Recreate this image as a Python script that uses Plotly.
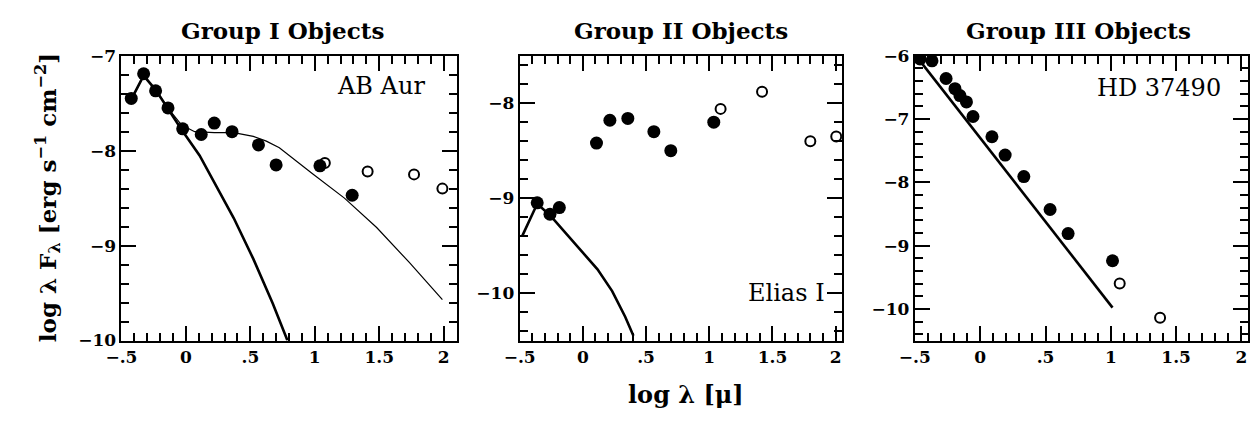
import plotly.graph_objects as go

# ---------------- Group I : AB Aur ----------------
ab_det_x = [-0.424, -0.328, -0.235, -0.139, -0.025, 0.119, 0.22, 0.358, 0.563, 0.70, 1.04, 1.29]
ab_det_y = [-7.45, -7.19, -7.37, -7.55, -7.77, -7.83, -7.71, -7.80, -7.94, -8.15, -8.16, -8.47]
ab_open_x = [1.078, 1.41, 1.77, 1.99]
ab_open_y = [-8.13, -8.22, -8.25, -8.40]
ab_model_x = [-0.424, -0.328, -0.235, -0.134, -0.033, 0.068, 0.22, 0.371, 0.523, 0.624, 0.725,
              0.852, 0.98, 1.23, 1.48, 1.735, 1.99]
ab_model_y = [-7.46, -7.21, -7.36, -7.56, -7.73, -7.80, -7.81, -7.81, -7.85, -7.90, -7.97,
              -8.10, -8.24, -8.50, -8.81, -9.18, -9.57]
ab_star_x = [-0.424, -0.328, -0.235, -0.134, -0.033, 0.106, 0.22, 0.371, 0.523, 0.674, 0.788]
ab_star_y = [-7.46, -7.21, -7.36, -7.57, -7.78, -8.05, -8.34, -8.71, -9.14, -9.61, -10.0]

# ---------------- Group II : Elias I ----------------
el_det_x = [-0.361, -0.26, -0.186, 0.108, 0.214, 0.356, 0.562, 0.696, 1.036]
el_det_y = [-9.05, -9.17, -9.10, -8.42, -8.18, -8.16, -8.30, -8.50, -8.20]
el_open_x = [1.09, 1.418, 1.80, 2.005]
el_open_y = [-8.06, -7.88, -8.40, -8.35]
el_star_x = [-0.48, -0.361, -0.26, 0.116, 0.232, 0.335, 0.40]
el_star_y = [-9.40, -9.06, -9.18, -9.75, -9.98, -10.25, -10.45]

# ---------------- Group III : HD 37490 ----------------
hd_det_x = [-0.46, -0.369, -0.261, -0.193, -0.155, -0.105, -0.055, 0.09, 0.191, 0.334, 0.535, 0.673, 1.013]
hd_det_y = [-6.05, -6.08, -6.36, -6.52, -6.63, -6.73, -6.96, -7.28, -7.57, -7.91, -8.43, -8.81, -9.24]
hd_open_x = [1.068, 1.377]
hd_open_y = [-9.60, -10.14]
hd_star_x = [-0.495, 1.013]
hd_star_y = [-5.99, -9.98]

# ---------------- axis tick labels ----------------
x_tickvals = [-0.5, 0, 0.5, 1, 1.5, 2]
x_ticktext = ["\u2212.5", "0", ".5", "1", "1.5", "2"]
y1_tickvals = [-10, -9, -8, -7]
y1_ticktext = ["\u221210", "\u22129", "\u22128", "\u22127"]
y2_tickvals = [-10, -9, -8]
y2_ticktext = ["\u221210", "\u22129", "\u22128"]
y3_tickvals = [-10, -9, -8, -7, -6]
y3_ticktext = ["\u221210", "\u22129", "\u22128", "\u22127", "\u22126"]

FONT = "DejaVu Serif"
INK = "black"

fig = go.Figure()


def add_panel(n, det_x, det_y, open_x, open_y, lines):
    xa = "x" if n == 1 else f"x{n}"
    ya = "y" if n == 1 else f"y{n}"
    for lx, ly, w in lines:
        fig.add_trace(go.Scatter(x=lx, y=ly, mode="lines", xaxis=xa, yaxis=ya,
                                 line=dict(color=INK, width=w), showlegend=False))
    fig.add_trace(go.Scatter(x=det_x, y=det_y, mode="markers", xaxis=xa, yaxis=ya,
                             marker=dict(symbol="circle", size=13, color=INK), showlegend=False))
    fig.add_trace(go.Scatter(x=open_x, y=open_y, mode="markers", xaxis=xa, yaxis=ya,
                             marker=dict(symbol="circle-open", size=10, color=INK,
                                         line=dict(width=2, color=INK)), showlegend=False))


add_panel(1, ab_det_x, ab_det_y, ab_open_x, ab_open_y,
          [(ab_model_x, ab_model_y, 1.2), (ab_star_x, ab_star_y, 2.6)])
add_panel(2, el_det_x, el_det_y, el_open_x, el_open_y,
          [(el_star_x, el_star_y, 2.6)])
add_panel(3, hd_det_x, hd_det_y, hd_open_x, hd_open_y,
          [(hd_star_x, hd_star_y, 2.6)])


def axis_style(domain, rng, tickvals, ticktext, minor_dtick, anchor):
    return dict(
        domain=domain, range=rng, anchor=anchor,
        tickmode="array", tickvals=tickvals, ticktext=ticktext,
        showline=True, linewidth=2, linecolor=INK, mirror="allticks",
        ticks="inside", ticklen=15, tickwidth=2, tickcolor=INK,
        minor=dict(ticks="inside", ticklen=8, tickwidth=2, tickcolor=INK,
                   dtick=minor_dtick, tick0=0),
        showgrid=False, zeroline=False,
        tickfont=dict(family=FONT, size=17, color=INK, weight="bold"),
    )


Y_DOM = [1 - 347 / 421, 1 - 48 / 421]
fig.update_layout(
    width=1250, height=421,
    margin=dict(l=0, r=0, t=0, b=0),
    plot_bgcolor="white",
    xaxis=axis_style([107 / 1250, 447 / 1250], [-0.5, 2.1], x_tickvals, x_ticktext, 0.1, "y"),
    yaxis=axis_style(Y_DOM, [-10, -7], y1_tickvals, y1_ticktext, 0.2, "x"),
    xaxis2=axis_style([511 / 1250, 838 / 1250], [-0.5, 2.05], x_tickvals, x_ticktext, 0.1, "y2"),
    yaxis2=axis_style(Y_DOM, [-10.5, -7.5], y2_tickvals, y2_ticktext, 0.2, "x2"),
    xaxis3=axis_style([912 / 1250, 1.0], [-0.5, 2.05], x_tickvals, x_ticktext, 0.1, "y3"),
    yaxis3=axis_style(Y_DOM, [-10.5, -6], y3_tickvals, y3_ticktext, 0.2, "x3"),
)

titles = [("Group I Objects", 270), ("Group II Objects", 675), ("Group III Objects", 1078)]
for text, cx in titles:
    fig.add_annotation(text=text, x=cx / 1250, y=1 - 22 / 421, xref="paper", yref="paper",
                       xanchor="center", yanchor="middle", showarrow=False,
                       font=dict(family=FONT, size=23, color=INK, weight="bold"))

labels = [("AB Aur", 370, 80), ("Elias I", 782, 297), ("HD 37490", 1160, 82)]
for text, cx, cy in labels:
    fig.add_annotation(text=text, x=cx / 1250, y=1 - cy / 421, xref="paper", yref="paper",
                       xanchor="center", yanchor="middle", showarrow=False,
                       font=dict(family=FONT, size=24, color=INK))

fig.add_annotation(text="log \u03bb [\u03bc]", x=680 / 1250, y=1 - 404 / 421,
                   xref="paper", yref="paper", xanchor="center", yanchor="middle",
                   showarrow=False, font=dict(family=FONT, size=24, color=INK, weight="bold"))
fig.add_annotation(text="log \u03bb F<sub>\u03bb</sub> [erg s<sup>\u22121</sup> cm<sup>\u22122</sup>]",
                   x=32 / 1250, y=1 - 197 / 421, xref="paper", yref="paper",
                   xanchor="center", yanchor="middle", textangle=-90, showarrow=False,
                   font=dict(family=FONT, size=23, color=INK, weight="bold"))

# a second layout pass after the first draw, so the inside ticks are placed on every frame side
redraw_js = (
    "var gd = document.getElementById('{plot_id}');"
    "Plotly.relayout(gd, {'margin.l': 1, 'margin.b': 1}).then(function () {"
    "  return Plotly.relayout(gd, {'margin.l': 0, 'margin.b': 0});"
    "});"
)

fig.write_html("out.html", post_script=redraw_js)
